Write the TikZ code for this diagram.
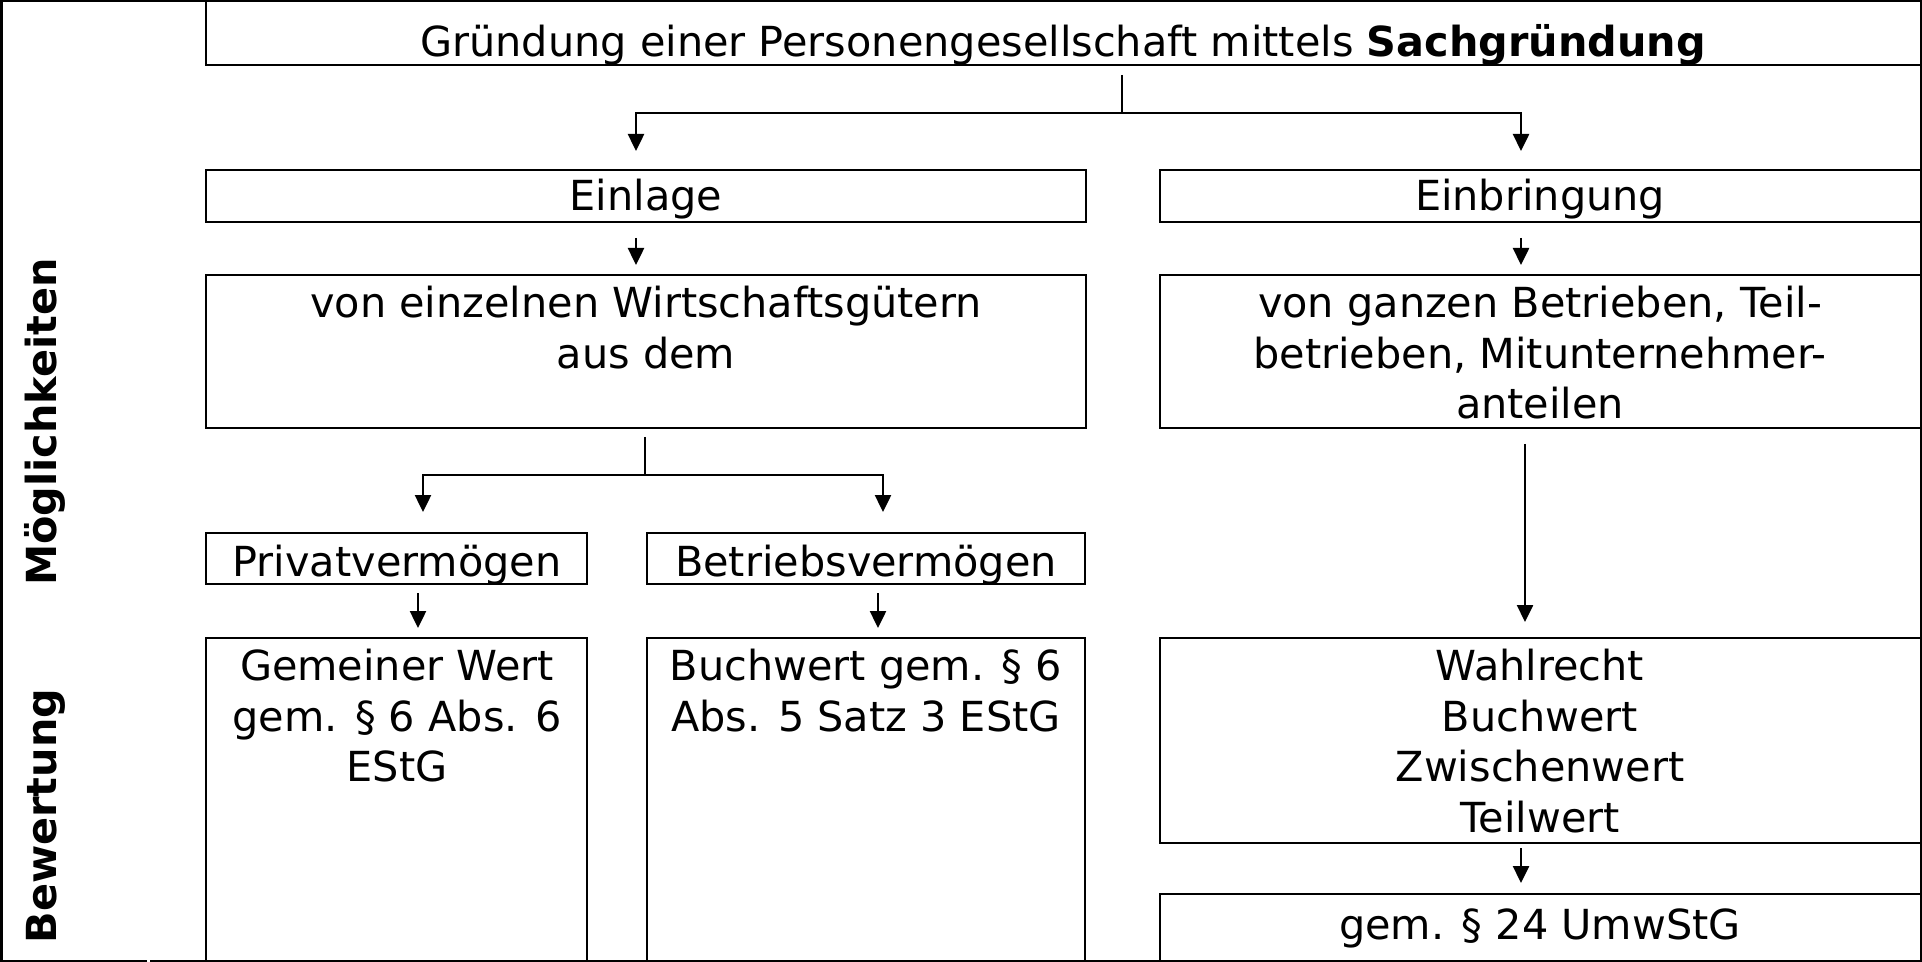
\documentclass[tikz,border=0pt]{standalone}
\usepackage{fontspec}
\setmainfont{DejaVu Sans}
\usetikzlibrary{fit,arrows.meta}
\tikzset{
  frameline/.style={line width=1.25pt},
  box/.style={draw, line width=1.25pt, inner sep=0pt},
  txt/.style={font=\fontsize{20.7}{25.25}\selectfont, inner sep=0pt, align=center},
  side/.style={font=\fontsize{20.7}{25.25}\selectfont\bfseries, rotate=90, anchor=base, inner sep=0pt},
  ln/.style={line width=1.25pt},
  arr/.style={line width=1.25pt, -{Triangle[length=8.5pt,width=8pt]}}
}
\begin{document}
\begin{tikzpicture}[x=0.5pt,y=-0.5pt]
\useasboundingbox (0,0) rectangle (1922,962);
% outer frame
\draw[frameline] (147,960.75) -| (1.25,1.25) -| (1920.75,960.75) -- (150,960.75);
% boxes
\node[box, fit={(206,1.25) (1920.75,65)}] (top) {};
\node[box, fit={(206,170) (1086,222)}] (einlage) {};
\node[box, fit={(1160,170) (1920.75,222)}] (einbr) {};
\node[box, fit={(206,275) (1086,428)}] (einzel) {};
\node[box, fit={(1160,275) (1920.75,428)}] (ganz) {};
\node[box, fit={(206,533) (587,584)}] (privat) {};
\node[box, fit={(647,533) (1085,584)}] (betrieb) {};
\node[box, fit={(206,638) (587,960.75)}] (gemein) {};
\node[box, fit={(647,638) (1085,960.75)}] (buchw) {};
\node[box, fit={(1160,638) (1920.75,843)}] (wahl) {};
\node[box, fit={(1160,894) (1920.75,960.75)}] (umw) {};
% texts
\node[txt, anchor=base] (ttop) at (1063,57) {Gründung einer Personengesellschaft mittels \textbf{Sachgründung}};
\node[txt, anchor=base] (teinlage) at (646,211) {Einlage};
\node[txt, anchor=base] (teinbr) at (1540,211) {Einbringung};
\node[txt, anchor=north] (teinzel) at (646,286) {von einzelnen Wirtschaftsgütern\\aus dem};
\node[txt, anchor=north] (tganz) at (1540,286) {von ganzen Betrieben, Teil-\\betrieben, Mitunternehmer-\\anteilen};
\node[txt, anchor=base] (tprivat) at (397,576) {Privatvermögen};
\node[txt, anchor=base] (tbetrieb) at (866,576) {Betriebsvermögen};
\node[txt, anchor=north] (tgemein) at (397,649) {Gemeiner Wert\\gem. § 6 Abs. 6\\EStG};
\node[txt, anchor=north] (tbuchw) at (866,649) {Buchwert gem. § 6\\Abs. 5 Satz 3 EStG};
\node[txt, anchor=north] (twahl) at (1540,649) {Wahlrecht\\Buchwert\\Zwischenwert\\Teilwert};
\node[txt, anchor=base] (tumw) at (1540,939) {gem. § 24 UmwStG};
\node[side] (smoegl) at (56,422) {Möglichkeiten};
\node[side] (sbew) at (56,816) {Bewertung};
% connector coordinates
\coordinate (s1) at (1122,75);
\coordinate (j1) at (1122,113);
\coordinate (t1) at (636,151);
\coordinate (t2) at (1521,151);
\coordinate (a2s) at (636,238);
\coordinate (a2e) at (636,265);
\coordinate (a3s) at (1521,238);
\coordinate (a3e) at (1521,265);
\coordinate (s2) at (645,437);
\coordinate (j2) at (645,475);
\coordinate (t3) at (423,512);
\coordinate (t4) at (883,512);
\coordinate (a5s) at (418,593);
\coordinate (a5e) at (418,628);
\coordinate (a6s) at (878,593);
\coordinate (a6e) at (878,628);
\coordinate (a7s) at (1525,444);
\coordinate (a7e) at (1525,622);
\coordinate (a8s) at (1521,848);
\coordinate (a8e) at (1521,883);
% connectors
\draw[ln] (s1) -- (j1);
\draw[arr] (j1) -| (t1);
\draw[arr] (j1) -| (t2);
\draw[arr] (a2s) -- (a2e);
\draw[arr] (a3s) -- (a3e);
\draw[ln] (s2) -- (j2);
\draw[arr] (j2) -| (t3);
\draw[arr] (j2) -| (t4);
\draw[arr] (a5s) -- (a5e);
\draw[arr] (a6s) -- (a6e);
\draw[arr] (a7s) -- (a7e);
\draw[arr] (a8s) -- (a8e);
\end{tikzpicture}
\end{document}
